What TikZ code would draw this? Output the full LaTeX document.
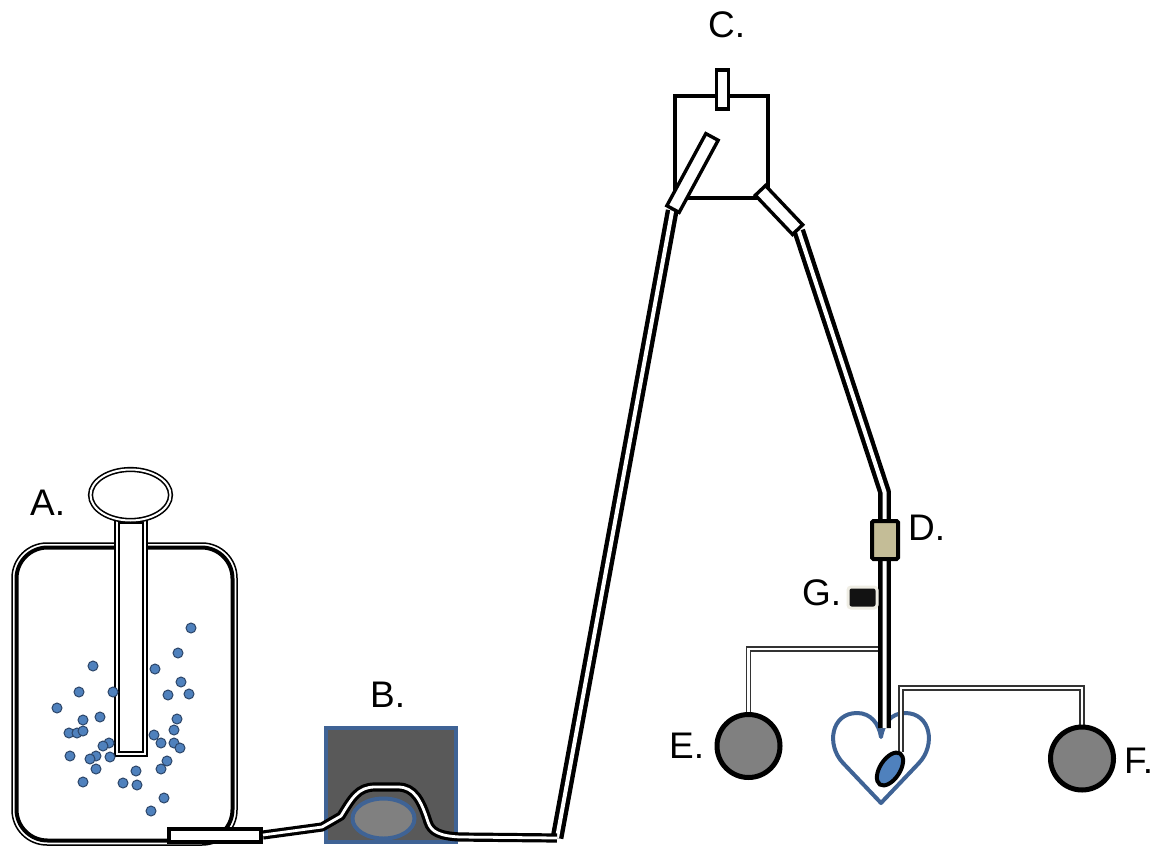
\documentclass[tikz,border=0pt]{standalone}
\usepackage{fontspec}
\setmainfont{Liberation Sans}
\usetikzlibrary{shapes.geometric,backgrounds}
\definecolor{dotblue}{HTML}{4F81BD}
\definecolor{edgeblue}{HTML}{3F6395}
\definecolor{pumpgrey}{HTML}{595959}
\definecolor{midgrey}{HTML}{808080}
\definecolor{filtertan}{HTML}{C4BD97}
\definecolor{halo}{HTML}{EFEDE4}

\begin{document}
\begin{tikzpicture}[x=1pt,y=-1pt,
  lbl/.style={font=\fontsize{37}{40}\selectfont, inner sep=0pt, anchor=base west},
  dbl/.style={draw=black, double=white, line width=1.6pt, double distance=2pt},
  tube/.style={draw=black, double=white, line width=4.4pt, double distance=4pt, line join=round},
  hose/.style={draw=black, double=white, line width=3.2pt, double distance=2.8pt, line join=round},
  thintube/.style={draw=black!80, double=white, line width=1.5pt, double distance=2.4pt},
  bead/.style={circle, fill=dotblue, draw=edgeblue!70!black, line width=1pt, minimum size=10pt, inner sep=0pt},
  vessel/.style={circle, fill=midgrey, draw=black, line width=5pt, minimum size=63pt, inner sep=0pt},
  armbox/.style={rectangle, draw=black, fill=white, line width=3.4pt, inner sep=0pt},
]
\useasboundingbox (0,0) rectangle (1156,848);

% ---------- A: reservoir bottle with dip tube and beads ----------
\node[draw=black, line width=1.5pt, rounded corners=35pt, minimum width=225, minimum height=302, inner sep=0pt] (bottle) at (124.5,694) {};
\draw[line width=4pt, rounded corners=31pt] (16.5,547.5) rectangle (232.5,840.5);
\node[dbl, fill=white, minimum width=28, minimum height=233, inner sep=0pt] (diptube) at (131,637.5) {};
\node[dbl, ellipse, fill=white, minimum width=80, minimum height=51, inner sep=0pt] (ring) at (130.5,495) {};
\foreach \px/\py in {191/628,178/653,93/666,155/669,181/682,79/692,113/692,168/695,189/694,
  57/708,100/717,83/720,177/719,174/730,69/733,77/733,83/731,154/735,109/743,103/746,161/743,
  174/743,180/748,70/756,96/756,90/759,110/757,167/761,96/769,136/771,161/769,83/782,123/783,
  137/785,164/798,151/811}
  \node[bead] at (\px,\py) {};
\node[draw=black, line width=4pt, fill=white, minimum width=92, minimum height=13, inner sep=0pt] (outlet) at (215,835) {};

% ---------- B: peristaltic pump ----------
\node[fill=pumpgrey, draw=edgeblue, line width=4pt, minimum width=130, minimum height=114, inner sep=0pt] (pump) at (390.5,784.5) {};
\node[ellipse, fill=midgrey, draw=edgeblue, line width=4pt, minimum width=62, minimum height=40, inner sep=0pt] (roller) at (383.5,818.5) {};
\coordinate (bend) at (557,838);
\draw[hose] (outlet.east) -- (322,827) -- (341,816)
  .. controls (352,798) and (358,787) .. (375,787) -- (398,787)
  .. controls (414,787) and (421,800) .. (428,822)
  .. controls (431,832) and (440,836) .. (460,837) -- (bend);

% ---------- C: drip chamber ----------
\node[draw=black, line width=4pt, minimum width=93, minimum height=102, inner sep=0pt] (chamber) at (721.5,147) {};
\node[armbox, minimum width=12, minimum height=39] (inlet) at (722.5,89.5) {};
\node[armbox, minimum width=82, minimum height=14, rotate=61.6] (armL) at (692.5,173) {};
\node[armbox, minimum width=54, minimum height=14, rotate=-46.5] (armR) at (779,210) {};

% ---------- D, G, heart and vessels ----------
\coordinate (knee) at (884.5,492);
\coordinate (heartin) at (884.5,728);
\coordinate (tee) at (884.5,649);
\coordinate (ecorner) at (748.5,649);
\coordinate (fcorner) at (1082,688);
\node[draw=black, fill=filtertan, line width=4pt, rounded corners=1.5pt, minimum width=26, minimum height=38, inner sep=0pt] (filter) at (885,540) {};
\node[fill=black!93, draw=halo, line width=3pt, rounded corners=3pt, minimum width=29, minimum height=21, inner sep=0pt] (sensor) at (862.5,597.5) {};
\node[vessel] (vesselE) at (748.5,746) {};
\node[vessel] (vesselF) at (1082,758.5) {};
\node[ellipse, fill=dotblue, draw=black, line width=4pt, minimum width=20, minimum height=37, inner sep=0pt, rotate=-33] (bolus) at (890,769) {};

% ---------- tubing behind the parts ----------
\begin{scope}[on background layer]
  \draw[edgeblue, line width=4pt, line join=round]
    (881,803) -- (843,763)
    .. controls (826,745) and (831,713) .. (857,713)
    .. controls (871,713) and (879,724) .. (881,737)
    .. controls (883,724) and (891,713) .. (905,713)
    .. controls (931,713) and (936,745) .. (919,763) -- cycle;
  \draw[thintube] (tee) -- (ecorner) -- (vesselE.north);
  \draw[thintube] (bolus.north) |- (fcorner) -- (vesselF.north);
  \draw[tube] (bend) -- (armL.west);
  \draw[tube] (armR.east) -- (knee) -- (heartin);
\end{scope}

% ---------- labels ----------
\node[lbl] (labA) at (30,515) {A.};
\node[lbl] (labB) at (370,707) {B.};
\node[lbl] (labC) at (708,38) {C.};
\node[lbl] (labD) at (908,540) {D.};
\node[lbl] (labG) at (802,605) {G.};
\node[lbl] (labE) at (669,758) {E.};
\node[lbl] (labF) at (1124,773) {F.};
\end{tikzpicture}
\end{document}
